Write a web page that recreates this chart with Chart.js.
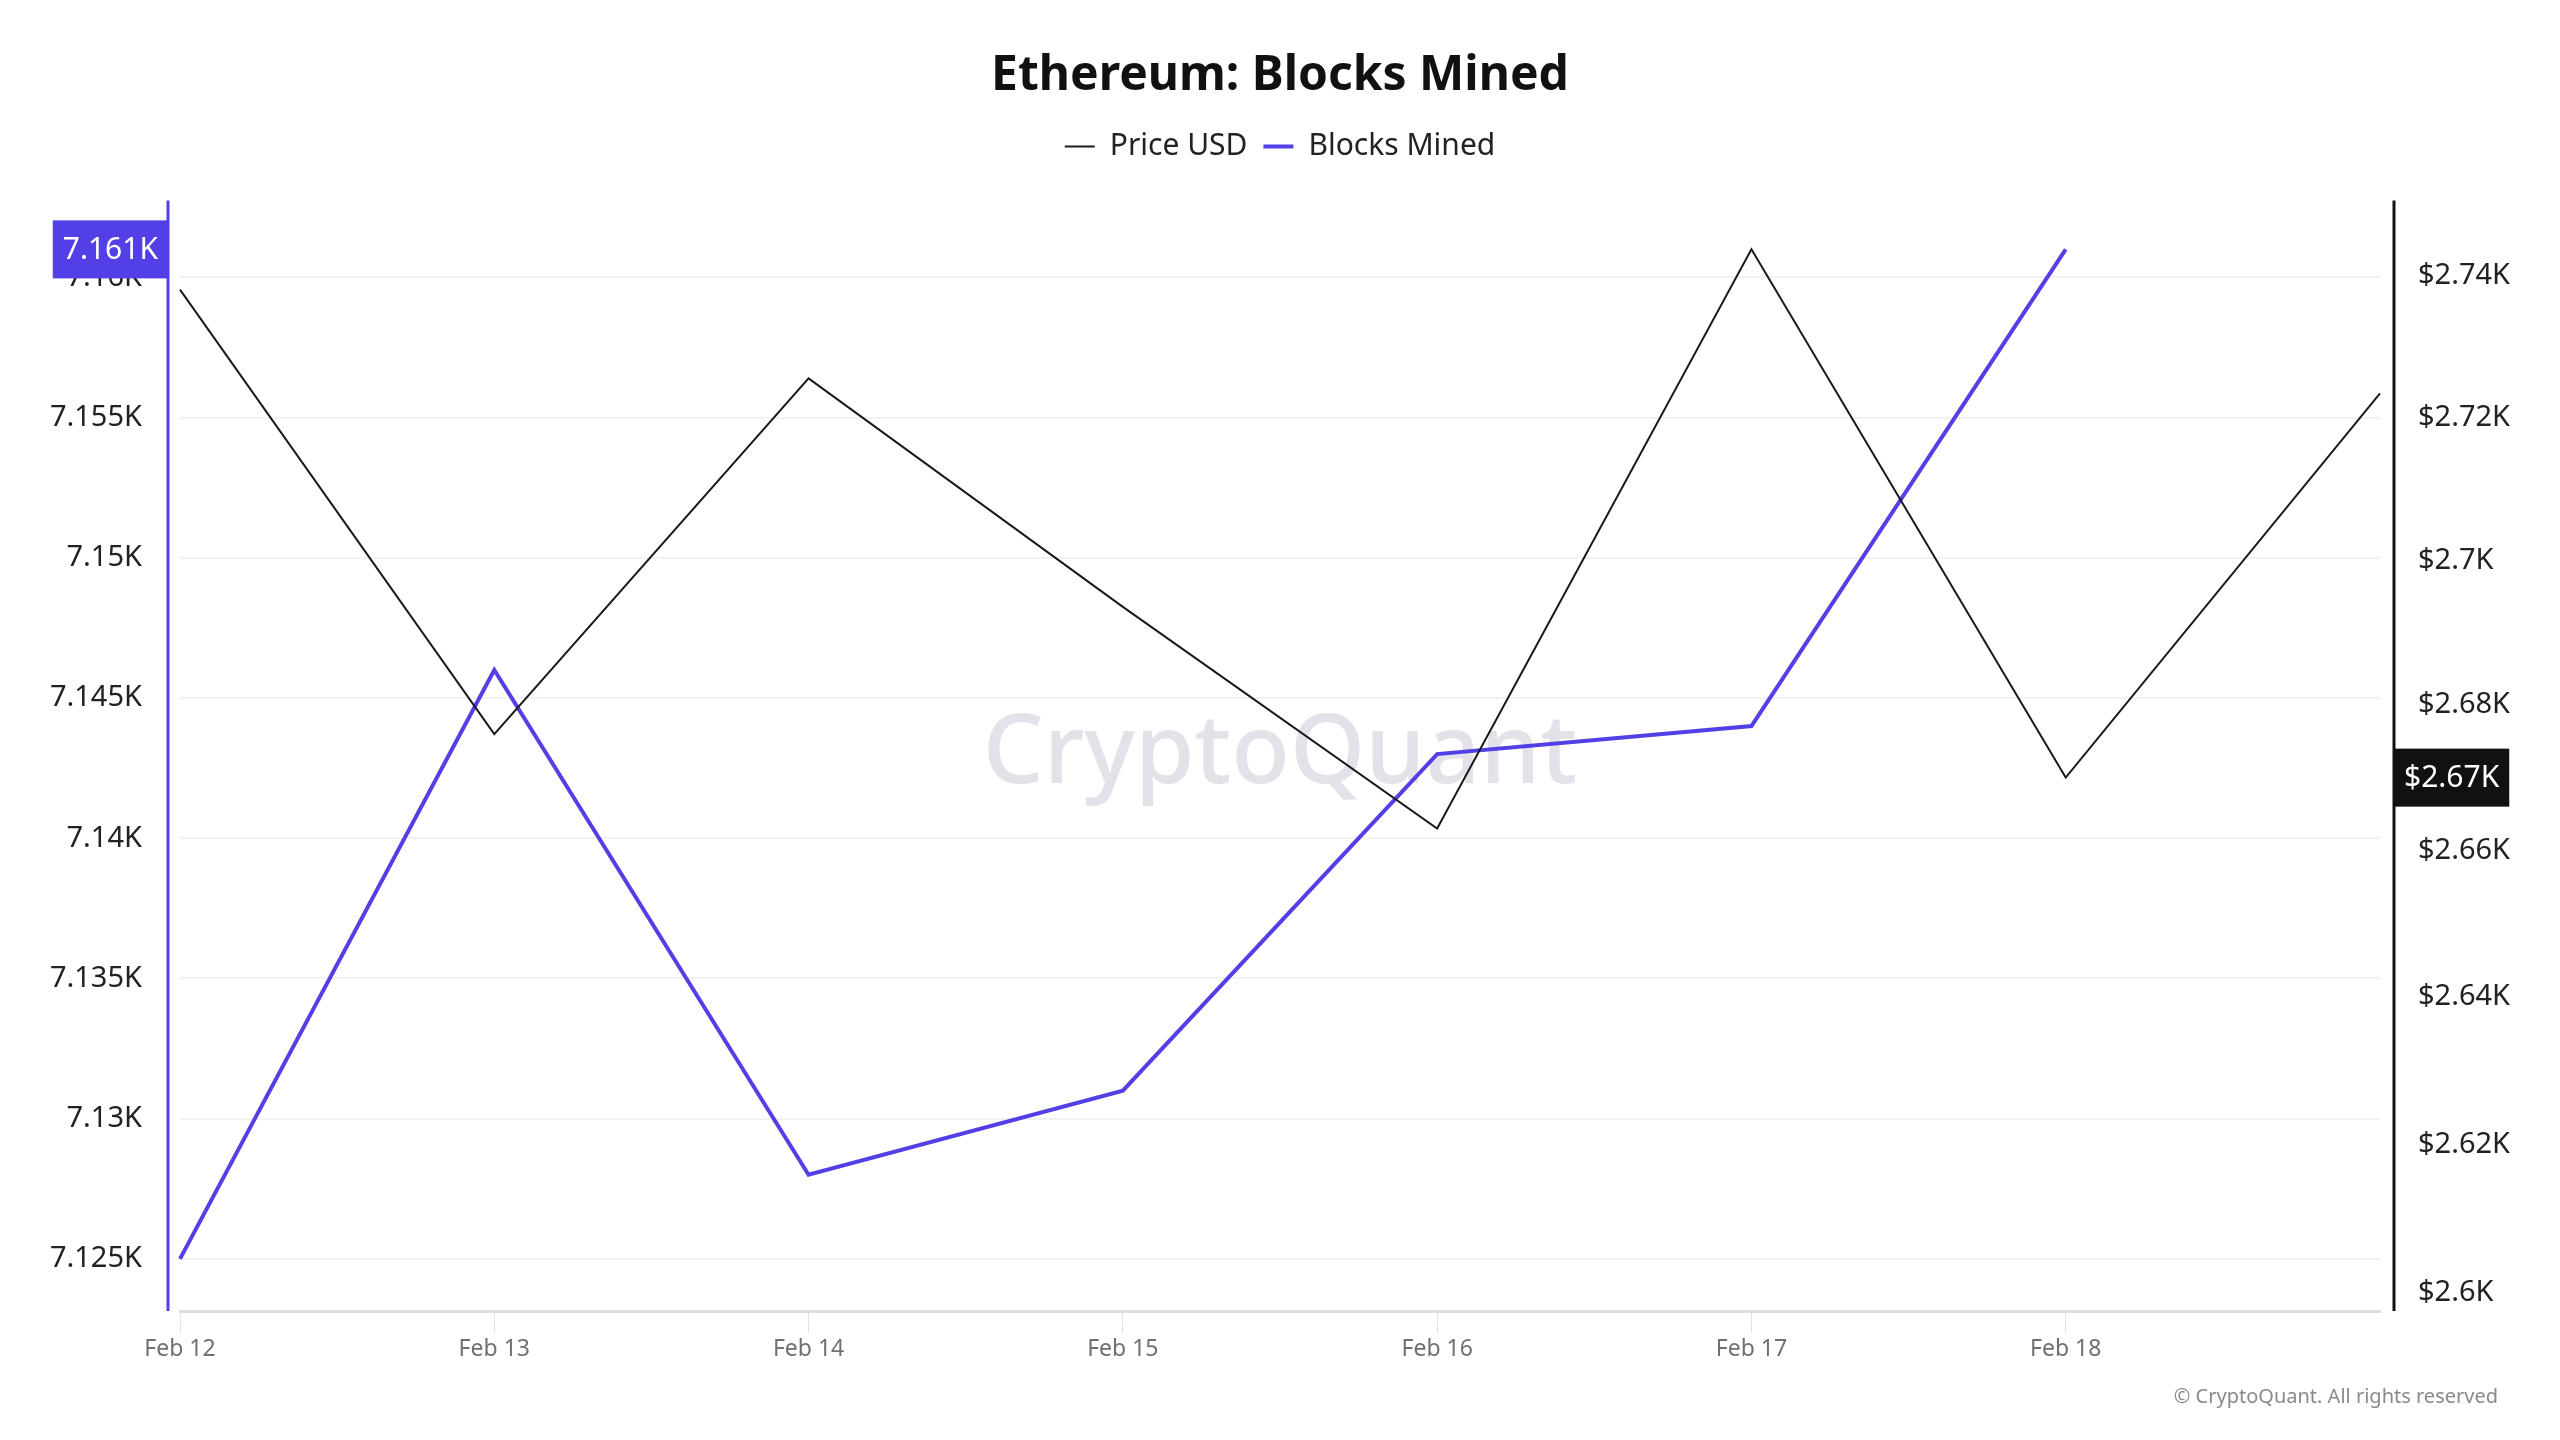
<!DOCTYPE html>
<html>
<head>
<meta charset="utf-8">
<title>Ethereum: Blocks Mined</title>
<script src="https://cdn.jsdelivr.net/npm/chart.js@4.4.1/dist/chart.umd.min.js"></script>
<style>
    html, body { margin: 0; padding: 0; background: #ffffff; }
    #wrap { width: 2560px; height: 1440px; }
</style>
</head>
<body>
<div id="wrap"><canvas id="blocksChart" width="2560" height="1440"></canvas></div>
<script>
const dates = ['Feb 12', 'Feb 13', 'Feb 14', 'Feb 15', 'Feb 16', 'Feb 17', 'Feb 18', 'Feb 19'];
const priceUsd = [2738, 2676, 2725.5, 2693.6, 2663, 2743.7, 2670, 2723.4];
const blocksMined = [7125, 7146, 7128, 7131, 7143, 7144, 7161, null];
const blocksTicks = [7125, 7130, 7135, 7140, 7145, 7150, 7155, 7160];
const priceTicks = [2600, 2620, 2640, 2660, 2680, 2700, 2720, 2740];

const PURPLE = 'rgb(83, 63, 230)';
const FONT = '"Noto Sans", "Open Sans", sans-serif';

function kLabel(v) {
    return parseFloat((v / 1000).toFixed(3)) + 'K';
}

// extra room under the legend
const legendSpacing = {
    id: 'legendSpacing',
    beforeInit(chart) {
        const fit = chart.legend.fit;
        chart.legend.fit = function () {
            fit.call(this);
            this.height += 29;
        };
    }
};

// axis lines, value badges, watermark, copyright
const decorations = {
    id: 'decorations',
    beforeDatasetsDraw(chart) {
        const ctx = chart.ctx;
        const a = chart.chartArea;
        ctx.save();
        ctx.font = '500 96px ' + FONT;
        ctx.fillStyle = '#e2e2e8';
        ctx.textAlign = 'center';
        ctx.textBaseline = 'middle';
        ctx.fillText('CryptoQuant', (a.left + a.right) / 2, (a.top + a.bottom) / 2);
        ctx.restore();
    },
    afterDraw(chart) {
        const ctx = chart.ctx;
        const a = chart.chartArea;
        const yB = chart.scales.yBlocks;
        const yP = chart.scales.yPrice;
        ctx.save();
        // left axis line
        ctx.strokeStyle = PURPLE;
        ctx.lineWidth = 3;
        ctx.beginPath();
        ctx.moveTo(a.left - 12, a.top);
        ctx.lineTo(a.left - 12, a.bottom);
        ctx.stroke();
        // right axis line
        ctx.strokeStyle = '#111111';
        ctx.beginPath();
        ctx.moveTo(a.right + 14, a.top);
        ctx.lineTo(a.right + 14, a.bottom);
        ctx.stroke();

        ctx.font = '30px ' + FONT;
        ctx.textBaseline = 'middle';
        // left badge (last blocks value)
        const bVal = blocksMined[6];
        const bText = kLabel(bVal);
        const by = yB.getPixelForValue(bVal);
        const bw = ctx.measureText(bText).width + 20;
        ctx.fillStyle = PURPLE;
        ctx.fillRect(a.left - 12 - bw, by - 29, bw, 58);
        ctx.fillStyle = '#ffffff';
        ctx.textAlign = 'center';
        ctx.fillText(bText, a.left - 12 - bw / 2, by + 1);
        // right badge (price)
        const pVal = priceUsd[6];
        const pText = '$' + kLabel(pVal);
        const py = yP.getPixelForValue(pVal);
        const pw = ctx.measureText(pText).width + 20;
        ctx.fillStyle = '#111111';
        ctx.fillRect(a.right + 14, py - 29, pw, 58);
        ctx.fillStyle = '#ffffff';
        ctx.fillText(pText, a.right + 14 + pw / 2, py + 1);

        // copyright
        ctx.font = '20px ' + FONT;
        ctx.fillStyle = '#8a8a8a';
        ctx.textAlign = 'right';
        ctx.fillText('\u00A9 CryptoQuant. All rights reserved', 2498, 1397);
        ctx.restore();
    }
};

const ctx = document.getElementById('blocksChart').getContext('2d');
const blocksChart = new Chart(ctx, {
    type: 'line',
    data: {
        labels: dates,
        datasets: [{
            label: 'Price USD',
            data: priceUsd,
            yAxisID: 'yPrice',
            borderColor: '#1a1a1a',
            backgroundColor: '#1a1a1a',
            borderWidth: 2,
            pointRadius: 0,
            pointStyle: 'line',
            tension: 0
        }, {
            label: 'Blocks Mined',
            data: blocksMined,
            yAxisID: 'yBlocks',
            borderColor: PURPLE,
            backgroundColor: PURPLE,
            borderWidth: 4,
            pointRadius: 0,
            pointStyle: 'line',
            tension: 0
        }]
    },
    options: {
        responsive: false,
        animation: false,
        layout: { padding: 0 },
        plugins: {
            title: {
                display: true,
                text: 'Ethereum: Blocks Mined',
                color: '#111111',
                font: { family: FONT, size: 48, weight: 'bold' },
                padding: { top: 48, bottom: 10 }
            },
            legend: {
                labels: {
                    usePointStyle: true,
                    pointStyleWidth: 30,
                    padding: 16,
                    color: '#222222',
                    font: { family: FONT, size: 30 }
                }
            },
            tooltip: { enabled: false }
        },
        scales: {
            x: {
                grid: { drawOnChartArea: false, tickLength: 22, color: '#e2e2e6' },
                border: { color: '#dcdde3', width: 3 },
                ticks: { color: '#707070', font: { family: FONT, size: 23 }, padding: 3, maxRotation: 0 },
                afterBuildTicks(scale) { scale.ticks = scale.ticks.slice(0, 7); },
                afterFit(scale) { scale.height = 129; }
            },
            yBlocks: {
                position: 'left',
                min: 7123.14,
                max: 7162.74,
                grid: { color: '#f2f2f2', drawTicks: false, lineWidth: 2 },
                border: { display: false },
                ticks: { color: '#222222', font: { family: FONT, size: 29 }, padding: 38, callback: v => kLabel(v) },
                afterBuildTicks(scale) { scale.ticks = blocksTicks.map(v => ({ value: v })); },
                afterFit(scale) { scale.width = 180; }
            },
            yPrice: {
                type: 'logarithmic',
                position: 'right',
                min: 2597.6,
                max: 2750.6,
                grid: { display: false, drawTicks: false },
                border: { display: false },
                ticks: { color: '#222222', font: { family: FONT, size: 29 }, padding: 38, callback: v => '$' + kLabel(v) },
                afterBuildTicks(scale) { scale.ticks = priceTicks.map(v => ({ value: v })); },
                afterFit(scale) { scale.width = 180; }
            }
        }
    },
    plugins: [legendSpacing, decorations]
});
</script>
</body>
</html>
